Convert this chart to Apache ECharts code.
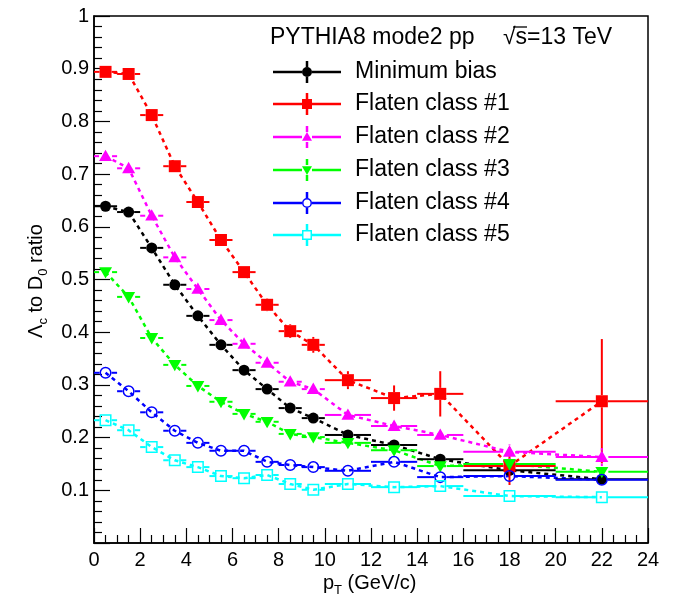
<!DOCTYPE html>
<html><head><meta charset="utf-8">
<script src="https://cdn.jsdelivr.net/npm/echarts@6/dist/echarts.min.js"></script>
<style>html,body{margin:0;padding:0;background:#fff}#c{width:673px;height:595px}</style>
</head><body><div id="c"></div>
<script>
// ---- data ----
const binLo = [0,1,2,3,4,5,6,7,8,9,10,12,14,16,20];
const binHi = [1,2,3,4,5,6,7,8,9,10,12,14,16,20,24];
const ptCenters = [0.5,1.5,2.5,3.5,4.5,5.5,6.5,7.5,8.5,9.5,11,13,15,18,22];
const xTicks = [0,2,4,6,8,10,12,14,16,18,20,22,24];
const seriesNames = ['Minimum bias','Flaten class #1','Flaten class #2','Flaten class #3','Flaten class #4','Flaten class #5'];
const valMB = [0.639,0.628,0.560,0.490,0.431,0.376,0.328,0.292,0.256,0.237,0.205,0.186,0.159,0.138,0.121];
const valC1 = [0.894,0.890,0.812,0.715,0.647,0.575,0.514,0.452,0.402,0.376,0.309,0.275,0.283,0.146,0.269];
const valC2 = [0.734,0.711,0.621,0.542,0.482,0.423,0.378,0.342,0.306,0.292,0.243,0.222,0.205,0.173,0.163];
const valC3 = [0.514,0.467,0.389,0.338,0.298,0.268,0.245,0.230,0.207,0.201,0.190,0.176,0.146,0.150,0.135];
const valC4 = [0.323,0.288,0.248,0.213,0.190,0.175,0.175,0.154,0.148,0.144,0.137,0.154,0.125,0.127,0.120];
const valC5 = [0.233,0.214,0.182,0.157,0.144,0.127,0.123,0.129,0.112,0.101,0.112,0.106,0.108,0.089,0.087];
const errMB = [0.003,0.003,0.004,0.004,0.004,0.004,0.005,0.005,0.005,0.006,0.005,0.006,0.007,0.006,0.007];
const errC1 = [0.006,0.006,0.007,0.008,0.009,0.010,0.011,0.012,0.013,0.015,0.017,0.024,0.043,0.036,0.118];
const errC2 = [0.004,0.005,0.005,0.006,0.006,0.007,0.007,0.008,0.008,0.009,0.009,0.010,0.011,0.014,0.017];
const errC3 = [0.003,0.004,0.004,0.004,0.005,0.005,0.005,0.006,0.006,0.006,0.006,0.007,0.007,0.010,0.010];
const errC4 = [0.003,0.003,0.003,0.003,0.004,0.004,0.004,0.004,0.004,0.005,0.004,0.005,0.005,0.006,0.008];
const errC5 = [0.003,0.003,0.003,0.003,0.003,0.003,0.003,0.004,0.004,0.004,0.004,0.004,0.004,0.005,0.005];

// ---- style ----
const FONT = '"Liberation Sans", Arial, Helvetica, sans-serif';
const sets = [
  {name: seriesNames[0], vals: valMB, errs: errMB, color: '#000000', kind: 'circle', size: 11},
  {name: seriesNames[1], vals: valC1, errs: errC1, color: '#ff0000', kind: 'square', size: 12},
  {name: seriesNames[2], vals: valC2, errs: errC2, color: '#ff00ff', kind: 'tri', size: 13},
  {name: seriesNames[3], vals: valC3, errs: errC3, color: '#00ff00', kind: 'triDown', size: 13},
  {name: seriesNames[4], vals: valC4, errs: errC4, color: '#0000ff', kind: 'openCircle', size: 12},
  {name: seriesNames[5], vals: valC5, errs: errC5, color: '#00ffff', kind: 'openSquare', size: 12}
];

function marker(kind, cx, cy, s, color) {
  const h = s / 2;
  switch (kind) {
    case 'circle': return {type: 'circle', shape: {cx, cy, r: h}, style: {fill: color}};
    case 'square': return {type: 'rect', shape: {x: cx - h, y: cy - h, width: s, height: s}, style: {fill: color}};
    case 'tri': return {type: 'polygon', shape: {points: [[cx, cy - h], [cx + h, cy + h * 0.75], [cx - h, cy + h * 0.75]]}, style: {fill: color}};
    case 'triDown': return {type: 'polygon', shape: {points: [[cx, cy + h], [cx + h, cy - h * 0.75], [cx - h, cy - h * 0.75]]}, style: {fill: color}};
    case 'openCircle': return {type: 'circle', shape: {cx, cy, r: h - 0.75}, style: {fill: 'none', stroke: color, lineWidth: 1.5}};
    case 'openSquare': return {type: 'rect', shape: {x: cx - h + 0.75, y: cy - h + 0.75, width: s - 1.5, height: s - 1.5}, style: {fill: 'none', stroke: color, lineWidth: 1.5}};
  }
}
function seg(x1, y1, x2, y2, color, w) {
  return {type: 'line', shape: {x1, y1, x2, y2}, style: {stroke: color, lineWidth: w || 2}};
}

const series = [];
sets.forEach((d, k) => {
  series.push({
    name: d.name, type: 'line', z: 2, showSymbol: false, silent: true,
    data: ptCenters.map((x, i) => [x, d.vals[i]]),
    lineStyle: {color: d.color, width: 2.5, type: [4, 4]}
  });
});
sets.forEach((d, k) => {
  series.push({
    name: d.name + ' points', type: 'custom', z: 3 + k, clip: true,
    data: ptCenters.map((x, i) => [x, d.vals[i], binLo[i], binHi[i], d.errs[i]]),
    encode: {x: 0, y: 1},
    renderItem: function (params, api) {
      const x = api.value(0), y = api.value(1), lo = api.value(2), hi = api.value(3), e = api.value(4);
      const c = api.coord([x, y]);
      const pl = api.coord([lo, y]), ph = api.coord([hi, y]);
      const pt = api.coord([x, y + e]), pb = api.coord([x, y - e]);
      const g = d.size / 2;
      const ch = [];
      ch.push(seg(pl[0], c[1], c[0] - g, c[1], d.color));
      ch.push(seg(c[0] + g, c[1], ph[0], c[1], d.color));
      if (c[1] - pt[1] > g) ch.push(seg(c[0], pt[1], c[0], c[1] - g, d.color));
      if (pb[1] - c[1] > g) ch.push(seg(c[0], c[1] + g, c[0], pb[1], d.color));
      ch.push(marker(d.kind, c[0], c[1], d.size, d.color));
      return {type: 'group', children: ch};
    }
  });
});

// ---- legend (graphic) ----
const graphics = [];
graphics.push({type: 'text', x: 270, y: 38, style: {text: 'PYTHIA8 mode2 pp', font: '23px ' + FONT, fill: '#000', verticalAlign: 'middle'}});
graphics.push({type: 'text', x: 503, y: 38, style: {text: '\u221As=13 TeV', font: '23px ' + FONT, fill: '#000', verticalAlign: 'middle'}});
graphics.push(seg(513, 27, 527, 27, '#000', 1.3));
const rowY = [72, 104, 137, 170, 203, 235];
sets.forEach((d, k) => {
  const y = rowY[k], cx = 307, g = 5;
  graphics.push(seg(273, y, cx - g, y, d.color, 2.5));
  graphics.push(seg(cx + g, y, 341, y, d.color, 2.5));
  graphics.push(seg(cx, y - 11, cx, y - g, d.color, 2.5));
  graphics.push(seg(cx, y + g, cx, y + 11, d.color, 2.5));
  graphics.push(marker(d.kind, cx, y, 10, d.color));
  graphics.push({type: 'text', x: 355, y: y, style: {text: d.name, font: '23px ' + FONT, fill: '#000', verticalAlign: 'middle'}});
});
// axis titles
graphics.push({type: 'text', x: 323, y: 583, style: {
  text: '{m|p}{s|T}{m| (GeV/c)}', verticalAlign: 'middle',
  rich: {m: {fontFamily: FONT, fontSize: 20, lineHeight: 28, verticalAlign: 'middle', fill: '#000'},
         s: {fontFamily: FONT, fontSize: 13, lineHeight: 13, verticalAlign: 'bottom', fill: '#000'}}
}});
graphics.push({type: 'text', x: 36, y: 281, rotation: Math.PI / 2, style: {
  text: '{m|\u039B}{s|c}{m| to D}{s|0}{m| ratio}', align: 'center', verticalAlign: 'middle',
  rich: {m: {fontFamily: FONT, fontSize: 20, lineHeight: 28, verticalAlign: 'middle', fill: '#000'},
         s: {fontFamily: FONT, fontSize: 13, lineHeight: 13, verticalAlign: 'bottom', fill: '#000'}}
}});

const chart = echarts.init(document.getElementById('c'), null, {renderer: 'canvas'});
chart.setOption({
  animation: false,
  backgroundColor: '#fff',
  grid: {left: 94, right: 25, top: 16, bottom: 52, show: true, borderColor: '#000', borderWidth: 1.5, backgroundColor: 'transparent'},
  xAxis: {
    type: 'value', min: xTicks[0], max: xTicks[xTicks.length - 1], interval: 2,
    axisLine: {show: true, lineStyle: {color: '#000', width: 1.5}},
    axisTick: {show: true, inside: true, length: 15, lineStyle: {color: '#000', width: 1.2}},
    minorTick: {show: true, splitNumber: 4, length: 8, lineStyle: {color: '#000', width: 1.2}},
    splitLine: {show: false},
    axisLabel: {fontSize: 20, fontFamily: FONT, color: '#000', margin: 7}
  },
  yAxis: {
    type: 'value', min: 0, max: 1, interval: 0.1,
    axisLine: {show: true, lineStyle: {color: '#000', width: 1.5}},
    axisTick: {show: true, inside: true, length: 16, lineStyle: {color: '#000', width: 1.2}},
    minorTick: {show: true, splitNumber: 5, length: 8, lineStyle: {color: '#000', width: 1.2}},
    splitLine: {show: false},
    axisLabel: {fontSize: 20, fontFamily: FONT, color: '#000', margin: 5,
      formatter: v => v === 0 ? '' : String(Math.round(v * 10) / 10)}
  },
  graphic: graphics,
  series: series
});
</script></body></html>
